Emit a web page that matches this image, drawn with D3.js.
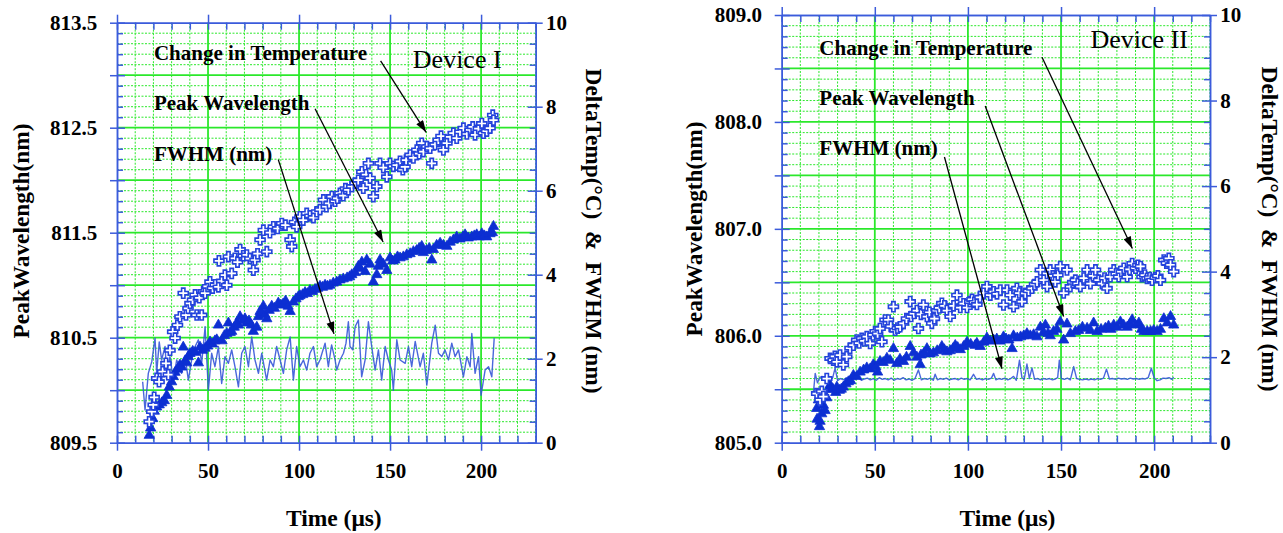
<!DOCTYPE html>
<html><head><meta charset="utf-8">
<script src="https://cdn.jsdelivr.net/npm/d3@7"></script>
<style>
body{margin:0;background:#fff;}
svg{display:block;}
text{font-family:"Liberation Serif","Times New Roman",serif;}
</style></head><body>
<svg id="c" width="1283" height="533"></svg>
<script>
// ---------------- DATA ----------------
const timeTicks = [0, 50, 100, 150, 200];
const timeTickLabels = ["0", "50", "100", "150", "200"];
const tempTicks = [0, 2, 4, 6, 8, 10];
const tempTickLabels = ["0", "2", "4", "6", "8", "10"];
const wlTicksI = [809.5, 810.5, 811.5, 812.5, 813.5];
const wlTickLabelsI = ["809.5", "810.5", "811.5", "812.5", "813.5"];
const wlTicksII = [805, 806, 807, 808, 809];
const wlTickLabelsII = ["805.0", "806.0", "807.0", "808.0", "809.0"];
const seriesNames = ["Change in Temperature", "Peak Wavelength", "FWHM (nm)"];

// Device I : [time (µs), delta T (°C)]
const devITemp = [[17.7,0.50],[19.1,0.74],[19.9,0.90],[20.4,1.08],[21.8,1.53],[23.1,1.45],[25.1,1.69],[26.9,1.89],[28.2,1.62],[29.1,2.20],[30.6,2.64],[31.9,2.49],[33.2,2.80],[34.6,3.00],[36.4,3.56],[37.9,3.04],[39.0,3.20],[40.1,3.32],[41.5,3.40],[42.9,3.52],[43.8,3.04],[45.2,3.45],[46.5,3.04],[47.4,3.60],[48.4,3.56],[49.8,3.72],[51.1,3.83],[52.5,3.68],[54.0,3.76],[55.7,3.71],[56.0,4.33],[57.5,3.85],[59.3,3.99],[60.3,3.75],[61.2,4.43],[63.0,4.03],[64.8,4.39],[66.2,4.30],[67.6,4.60],[69.4,4.45],[71.3,4.47],[73.0,4.38],[74.9,4.11],[75.8,4.35],[77.2,4.50],[78.6,4.83],[80.4,5.06],[82.3,4.55],[84.0,5.00],[85.9,5.14],[88.2,5.10],[90.5,5.22],[92.5,5.18],[95.1,4.83],[96.0,4.67],[97.5,5.25],[98.7,5.14],[100.5,5.38],[102.3,5.30],[104.2,5.46],[106.0,5.40],[107.9,5.36],[109.7,5.50],[111.5,5.55],[113.4,5.78],[115.0,5.62],[116.5,5.70],[118.0,5.86],[119.8,5.75],[121.0,5.82],[122.5,5.94],[124.3,5.88],[125.5,6.05],[127.1,6.02],[129.0,6.10],[130.8,6.18],[132.5,6.25],[134.5,6.45],[135.3,6.06],[136.8,6.38],[138.1,6.65],[139.0,6.30],[140.8,5.86],[142.7,6.10],[144.5,6.65],[146.3,6.55],[148.2,6.33],[150.0,6.65],[151.8,6.58],[153.7,6.61],[155.5,6.70],[157.0,6.50],[158.2,6.57],[158.8,6.73],[161.0,6.85],[162.8,6.78],[164.7,6.97],[166.0,6.88],[167.4,7.13],[168.3,6.93],[170.2,7.05],[172.0,7.01],[172.9,6.65],[174.7,7.10],[176.5,7.21],[178.0,7.30],[179.3,6.97],[181.2,7.13],[183.0,7.28],[184.8,7.37],[186.6,7.25],[188.4,7.40],[190.3,7.49],[192.2,7.35],[194.0,7.45],[195.4,7.52],[196.7,7.33],[198.5,7.48],[200.4,7.60],[201.3,7.37],[203.1,7.42],[204.9,7.49],[206.4,7.80],[206.8,7.68]];

// Device I : [time (µs), peak wavelength (nm)]
const devIWl = [[17.7,809.57],[18.5,809.64],[19.6,809.73],[20.5,809.80],[21.8,809.84],[23.2,809.86],[24.6,809.88],[26.0,809.90],[27.3,809.95],[28.7,810.03],[30.0,810.08],[30.9,810.13],[31.9,810.17],[33.3,810.20],[34.6,810.24],[35.5,810.22],[36.4,810.41],[37.4,810.28],[38.3,810.26],[39.2,810.32],[40.1,810.35],[41.6,810.37],[43.0,810.36],[44.7,810.26],[45.6,810.41],[47.0,810.38],[48.4,810.40],[49.8,810.42],[51.1,810.46],[52.5,810.44],[53.8,810.47],[54.8,810.48],[55.7,810.62],[57.7,810.47],[59.0,810.52],[60.3,810.54],[61.2,810.64],[62.2,810.55],[63.0,810.56],[64.4,810.60],[65.8,810.64],[66.7,810.62],[67.6,810.70],[69.0,810.66],[70.3,810.68],[71.3,810.64],[72.5,810.66],[73.8,810.62],[74.9,810.56],[76.8,810.60],[77.7,810.70],[78.6,810.75],[79.5,810.74],[80.4,810.80],[81.3,810.72],[82.3,810.68],[83.6,810.76],[85.0,810.80],[86.5,810.78],[88.6,810.83],[90.0,810.81],[91.2,810.82],[92.6,810.85],[94.0,810.80],[95.1,810.75],[96.9,810.84],[98.3,810.87],[99.6,810.89],[100.5,810.90],[102.0,810.91],[103.3,810.93],[104.6,810.92],[106.0,810.95],[107.4,810.94],[108.8,810.96],[110.2,810.97],[111.5,810.99],[112.9,810.98],[114.3,811.00],[115.6,810.99],[117.0,811.00],[118.8,811.02],[120.7,811.03],[122.5,811.05],[124.3,811.06],[126.4,811.07],[127.8,811.08],[129.0,811.10],[130.9,811.12],[132.6,811.18],[133.6,811.16],[134.5,811.22],[136.3,811.13],[137.2,811.24],[139.0,811.20],[140.8,811.03],[142.7,811.10],[143.6,811.18],[144.5,811.24],[146.3,811.20],[148.2,811.14],[150.0,811.26],[151.4,811.23],[152.7,811.24],[154.1,811.27],[155.5,811.26],[157.3,811.27],[159.2,811.29],[161.0,811.30],[162.8,811.32],[164.6,811.33],[166.0,811.35],[167.4,811.37],[168.3,811.31],[170.0,811.33],[171.5,811.35],[172.9,811.24],[173.8,811.34],[175.6,811.38],[177.5,811.40],[179.3,811.38],[181.2,811.37],[183.0,811.41],[184.8,811.43],[186.6,811.46],[188.4,811.44],[190.0,811.46],[191.2,811.48],[193.0,811.45],[194.9,811.46],[196.3,811.47],[197.6,811.48],[199.0,811.46],[200.4,811.49],[201.8,811.47],[203.1,811.46],[204.9,811.49],[206.2,811.50],[206.8,811.56]];

// Device I : [time (µs), FWHM (nm)]
const devIFwhm = [[14.1,1.45],[15.4,0.78],[17.2,1.65],[19.1,1.93],[20.9,2.49],[21.8,1.65],[23.2,2.40],[24.5,1.97],[26.4,2.29],[27.3,1.65],[29.1,2.05],[30.9,1.49],[32.8,1.97],[35.5,1.65],[37.4,2.05],[39.2,1.49],[41.0,1.97],[42.9,2.29],[44.7,2.45],[46.5,1.89],[48.4,2.76],[50.2,1.25],[52.0,2.13],[53.8,1.81],[55.7,2.29],[57.5,1.41],[59.3,2.05],[61.2,1.89],[63.0,2.21],[64.8,1.81],[66.7,1.33],[68.5,2.13],[70.3,2.29],[72.2,1.81],[74.0,2.52],[75.8,1.97],[77.7,1.65],[79.5,2.13],[82.2,1.49],[84.1,1.97],[85.9,1.81],[87.7,2.29],[89.6,1.97],[91.4,1.65],[93.2,2.21],[95.1,2.52],[96.9,1.49],[98.7,2.29],[100.5,1.81],[102.4,1.97],[104.2,1.73],[106.0,2.13],[107.9,2.29],[109.7,1.81],[111.5,1.97],[114.3,2.37],[116.1,1.81],[117.9,2.33],[119.8,1.97],[120.7,1.73],[122.5,1.97],[124.4,2.13],[125.8,2.37],[127.1,2.88],[128.0,2.29],[129.5,2.21],[130.8,2.76],[132.6,2.92],[134.4,1.57],[136.3,1.97],[138.1,2.88],[139.9,2.29],[141.8,1.73],[143.6,2.21],[145.4,1.49],[147.3,2.29],[149.1,1.97],[150.9,1.73],[151.8,1.25],[153.7,2.45],[155.5,1.97],[158.3,1.89],[160.1,2.29],[161.9,1.81],[163.8,2.41],[166.5,1.81],[168.3,2.13],[170.2,1.37],[172.9,2.37],[174.8,2.80],[176.6,2.13],[178.4,2.05],[180.2,2.21],[182.1,1.97],[183.9,2.37],[185.7,2.05],[187.6,2.21],[190.3,1.57],[192.2,2.05],[194.0,1.81],[194.9,2.60],[196.7,1.65],[198.6,2.05],[200.0,1.13],[202.2,1.73],[204.1,1.81],[205.9,1.57],[207.2,2.49]];

// Device II : [time (µs), delta T (°C)]
const devIITemp = [[18.8,1.15],[20.6,1.00],[21.5,1.20],[22.4,1.08],[24.2,1.50],[26.0,1.97],[27.7,1.93],[28.6,2.02],[29.6,1.89],[31.3,2.05],[33.1,1.82],[34.9,2.01],[36.7,2.21],[38.5,2.28],[40.3,2.40],[41.6,2.33],[43.0,2.44],[44.4,2.38],[45.7,2.48],[47.5,2.32],[49.0,2.52],[50.2,2.60],[51.5,2.55],[52.8,2.67],[53.8,2.36],[55.5,2.87],[57.3,2.87],[58.6,2.72],[60.0,3.18],[60.9,2.63],[62.2,2.68],[63.6,2.71],[65.4,2.79],[67.0,2.90],[69.0,3.30],[69.5,2.95],[71.0,3.02],[72.6,3.09],[73.4,2.67],[74.8,3.00],[76.1,3.22],[78.0,2.95],[79.3,3.05],[80.6,2.79],[82.0,2.90],[83.3,3.09],[84.6,3.15],[86.0,3.26],[87.4,3.20],[88.7,3.09],[90.5,2.95],[92.3,3.20],[94.1,3.45],[95.9,3.16],[97.7,3.25],[99.5,3.16],[101.0,3.30],[102.2,3.35],[103.5,3.28],[104.8,3.23],[106.5,3.40],[108.4,3.50],[110.2,3.65],[112.0,3.45],[113.8,3.53],[115.6,3.48],[117.4,3.57],[119.1,3.22],[121.0,3.57],[122.7,3.45],[124.5,3.18],[126.3,3.61],[127.6,3.50],[129.0,3.30],[130.8,3.49],[132.6,3.55],[134.4,3.61],[135.8,3.70],[137.1,3.76],[138.9,4.04],[140.7,3.80],[142.5,3.65],[144.2,4.04],[145.6,3.90],[146.9,3.76],[148.3,3.92],[149.6,4.12],[151.4,3.50],[153.2,4.04],[155.0,3.65],[156.3,3.75],[157.7,3.80],[159.0,3.72],[160.4,3.65],[162.2,3.85],[164.0,4.04],[165.8,3.72],[167.2,3.90],[168.5,4.04],[170.2,3.80],[172.0,3.72],[173.4,3.85],[174.7,3.61],[176.5,3.88],[178.3,4.04],[179.6,3.95],[181.0,3.88],[182.4,4.00],[183.7,4.08],[185.5,3.88],[186.8,4.05],[188.2,4.19],[190.0,4.08],[191.3,4.15],[192.7,4.12],[193.5,3.88],[195.0,3.92],[196.2,3.84],[197.6,3.86],[198.9,3.80],[200.7,3.86],[202.0,3.90],[203.4,3.80],[205.2,4.27],[206.6,4.20],[207.9,4.31],[208.8,4.16],[210.5,4.00]];

// Device II : [time (µs), peak wavelength (nm)]
const devIIWl = [[18.8,805.32],[19.0,805.22],[19.7,805.40],[20.3,805.15],[20.6,805.20],[21.5,805.27],[22.0,805.45],[22.4,805.35],[23.3,805.30],[24.2,805.42],[25.1,805.50],[26.0,805.54],[27.5,805.50],[29.0,805.47],[29.6,805.52],[31.0,805.49],[32.0,805.50],[33.1,805.52],[34.5,805.55],[35.8,805.57],[37.0,805.58],[38.5,805.63],[40.3,805.62],[42.1,805.66],[44.0,805.68],[45.7,805.70],[47.5,805.69],[49.2,805.73],[50.5,805.71],[51.5,805.66],[52.8,805.76],[54.5,805.75],[56.5,805.79],[58.2,805.77],[60.0,805.88],[61.8,805.74],[63.5,805.78],[65.4,805.76],[67.0,805.80],[69.0,805.90],[70.8,805.84],[72.6,805.80],[74.4,805.73],[74.8,805.82],[76.5,805.84],[78.0,805.88],[79.7,805.83],[81.5,805.84],[83.5,805.86],[86.0,805.90],[87.3,805.87],[88.7,805.85],[90.5,805.86],[92.0,805.88],[93.2,805.91],[94.5,805.89],[95.9,805.87],[97.7,805.90],[99.5,805.94],[101.5,805.92],[103.9,805.91],[104.8,805.93],[106.6,805.90],[108.5,805.94],[110.2,805.98],[112.0,805.95],[113.8,805.96],[115.5,805.97],[117.3,805.95],[119.1,805.99],[120.5,805.97],[122.0,805.96],[123.7,805.88],[124.5,806.00],[126.5,805.98],[128.3,805.99],[130.0,806.00],[131.7,806.02],[133.5,806.00],[135.3,806.01],[137.1,805.99],[138.9,806.08],[140.5,806.03],[141.6,806.10],[143.0,806.02],[144.2,806.00],[146.0,806.04],[147.8,806.06],[149.6,806.13],[151.4,805.96],[153.2,806.11],[155.0,806.02],[157.7,806.04],[159.5,806.05],[161.5,806.08],[164.0,806.07],[165.8,806.05],[167.5,806.12],[169.4,806.04],[171.5,806.06],[173.8,806.07],[175.5,806.09],[176.8,806.06],[178.3,806.10],[180.0,806.08],[181.9,806.13],[183.6,806.10],[185.5,806.08],[187.0,806.11],[188.2,806.15],[190.0,806.10],[191.8,806.12],[193.2,806.06],[194.5,806.04],[196.3,806.04],[198.1,806.04],[199.8,806.05],[201.6,806.04],[203.4,806.06],[205.2,806.16],[207.0,806.12],[208.8,806.18],[210.5,806.10]];

// Device II : [time (µs), FWHM (nm)]
const devIIFwhm = [[17.0,1.15],[18.0,1.62],[19.2,1.40],[20.4,1.52],[21.6,1.55],[23.0,1.50],[24.5,1.56],[26.0,1.48],[27.4,1.52],[28.7,1.75],[30.0,1.45],[31.6,1.50],[33.2,1.47],[34.8,1.52],[36.4,1.46],[38.0,1.50],[39.6,1.48],[41.2,1.52],[42.8,1.46],[44.4,1.49],[46.0,1.51],[47.6,1.47],[49.2,1.50],[50.8,1.46],[52.4,1.52],[54.0,1.48],[55.6,1.50],[57.2,1.47],[58.8,1.51],[60.4,1.46],[62.0,1.50],[63.6,1.48],[65.2,1.52],[66.8,1.47],[68.4,1.49],[70.0,1.46],[71.6,1.50],[73.4,1.70],[75.0,1.47],[76.6,1.50],[78.2,1.48],[79.8,1.51],[81.4,1.46],[82.4,1.60],[83.6,1.47],[85.2,1.50],[86.8,1.48],[88.4,1.51],[90.0,1.47],[91.6,1.49],[93.2,1.50],[94.8,1.47],[96.4,1.51],[98.0,1.48],[99.6,1.50],[101.2,1.47],[103.0,1.60],[104.6,1.48],[106.2,1.50],[107.8,1.47],[109.4,1.50],[111.0,1.48],[112.6,1.51],[113.8,1.62],[115.0,1.47],[116.6,1.50],[118.2,1.48],[119.8,1.51],[121.4,1.47],[123.0,1.50],[124.5,1.55],[126.0,1.46],[127.7,1.93],[129.0,1.52],[130.2,1.48],[131.7,1.84],[133.0,1.50],[134.4,1.75],[135.8,1.48],[137.4,1.50],[139.0,1.47],[140.6,1.50],[142.2,1.48],[143.8,1.50],[145.4,1.47],[147.0,1.49],[148.2,1.52],[149.1,1.93],[150.2,1.50],[151.8,1.48],[153.4,1.51],[155.0,1.47],[156.8,1.78],[158.4,1.50],[160.0,1.48],[161.6,1.47],[163.2,1.49],[164.8,1.47],[166.4,1.49],[168.0,1.47],[169.6,1.50],[171.2,1.48],[172.8,1.51],[174.4,1.72],[176.0,1.49],[177.6,1.50],[179.2,1.48],[180.8,1.51],[182.4,1.49],[184.0,1.50],[185.6,1.48],[187.2,1.51],[188.8,1.49],[190.4,1.50],[192.0,1.48],[193.6,1.50],[195.2,1.49],[196.8,1.52],[198.5,1.74],[200.0,1.52],[201.6,1.45],[203.2,1.47],[204.8,1.51],[206.4,1.50],[208.0,1.52],[209.5,1.48],[210.5,1.53]];

// ---------------- LAYOUT ----------------
// annotation anchors are in data units (time, right-axis value)
const charts = [
  { device: "Device I", wlDomain: [809.5, 813.5], wlTicks: wlTicksI, wlLabels: wlTickLabelsI,
    temp: devITemp, wl: devIWl, fwhm: devIFwhm,
    box: { x0: 117, x1: 535.7, y0: 22.7, y1: 442.7 },
    leftTitleX: 29.3, rightTitleX: 585.7, titleY: 231, timeX: 333.8,
    labelT: 20.3, labelV: [9.11, 7.92, 6.71],
    arrows: [[144.8, 9.09, 169.8, 7.39], [108.8, 7.95, 146.2, 4.78], [88.6, 6.74, 119.2, 2.59]],
    devicePos: [162.5, 8.91] },
  { device: "Device II", wlDomain: [805, 809], wlTicks: wlTicksII, wlLabels: wlTickLabelsII,
    temp: devIITemp, wl: devIIWl, fwhm: devIIFwhm,
    box: { x0: 781.7, x1: 1210, y0: 15, y1: 442.7 },
    leftTitleX: 701.5, rightTitleX: 1262.3, titleY: 229, timeX: 1007.5,
    labelT: 20.2, labelV: [9.06, 7.90, 6.73],
    arrows: [[139.8, 9.01, 188.3, 4.54], [109.3, 7.87, 151.4, 2.95], [87.4, 6.68, 118.3, 1.73]],
    devicePos: [165.8, 9.22] }
];

const AXIS_BLUE = "#3b5bdb";
const GRID_GREEN = "#2be82b";
const MARK_BLUE = "#0c2fd2";
const PLUS_BLUE = "#2343dc";
const LINE_BLUE = "#3656d8";
const SERIF = "'Liberation Serif','Times New Roman',serif";

const svg = d3.select("#c");
const defs = svg.append("defs");
defs.append("marker").attr("id", "ah").attr("viewBox", "0 0 12 8")
  .attr("refX", 12).attr("refY", 4).attr("markerWidth", 13).attr("markerHeight", 8)
  .attr("markerUnits", "userSpaceOnUse").attr("orient", "auto")
  .append("path").attr("d", "M0,0 L12,4 L0,8 Z").attr("fill", "#000");

function styleAxis(sel, fs) {
  sel.attr("font-family", SERIF).attr("font-size", fs).attr("font-weight", "bold");
  sel.select(".domain").attr("stroke", AXIS_BLUE).attr("stroke-width", 1.5);
  sel.selectAll(".tick line").attr("stroke", AXIS_BLUE).attr("stroke-width", 1.5);
  sel.selectAll(".tick text").attr("fill", "#000");
}

function drawChart(c) {
  const b = c.box;
  const x = d3.scaleLinear().domain([0, 230]).range([b.x0, b.x1]);
  const yL = d3.scaleLinear().domain(c.wlDomain).range([b.y1, b.y0]);
  const yR = d3.scaleLinear().domain([0, 10]).range([b.y1, b.y0]);
  const g = svg.append("g");
  const lo = c.wlDomain[0];

  const hAll = d3.range(0, 41).map(i => +(lo + i * 0.1).toFixed(2));
  const hMinor = hAll.filter((v, i) => i % 5 !== 0);
  const hMajor = hAll.filter((v, i) => i % 5 === 0);
  const vAll = d3.range(0, 24).map(i => i * 10);
  const vMinor = vAll.filter(v => v % 50 !== 0);
  const vMajor = vAll.filter(v => v % 50 === 0);
  const rAll = d3.range(0, 21).map(i => i * 0.5);
  const rMinor = rAll.filter(v => v % 2 !== 0);

  // grid
  const grid = g.append("g");
  grid.selectAll(".hmin").data(hMinor).join("line")
    .attr("x1", b.x0).attr("x2", b.x1).attr("y1", d => yL(d)).attr("y2", d => yL(d))
    .attr("stroke", GRID_GREEN).attr("stroke-width", 1).attr("stroke-dasharray", "2,1.5");
  grid.selectAll(".vmin").data(vMinor).join("line")
    .attr("y1", b.y0).attr("y2", b.y1).attr("x1", d => x(d)).attr("x2", d => x(d))
    .attr("stroke", GRID_GREEN).attr("stroke-width", 1).attr("stroke-dasharray", "2,1.5");
  grid.selectAll(".hmaj").data(hMajor.slice(1, -1)).join("line")
    .attr("x1", b.x0).attr("x2", b.x1).attr("y1", d => yL(d)).attr("y2", d => yL(d))
    .attr("stroke", GRID_GREEN).attr("stroke-width", 1.8);
  grid.selectAll(".vmaj").data(vMajor.slice(1)).join("line")
    .attr("y1", b.y0).attr("y2", b.y1).attr("x1", d => x(d)).attr("x2", d => x(d))
    .attr("stroke", GRID_GREEN).attr("stroke-width", 1.8);

  // axes
  const labelOf = (vals, labels) => v => {
    const i = vals.findIndex(t => Math.abs(t - v) < 1e-6);
    return i >= 0 ? labels[i] : "";
  };
  g.append("g").attr("transform", `translate(${b.x0},0)`)
    .call(d3.axisLeft(yL).tickValues(hMinor).tickSize(-6).tickSizeOuter(0).tickFormat(""))
    .call(s => styleAxis(s, 21));
  g.append("g").attr("transform", `translate(${b.x0},0)`)
    .call(d3.axisLeft(yL).tickValues(hMajor).tickSize(7).tickSizeOuter(0).tickPadding(12.7)
      .tickFormat(labelOf(c.wlTicks, c.wlLabels)))
    .call(s => styleAxis(s, 21))
    .call(s => s.selectAll(".tick line").attr("x1", 8));
  g.append("g").attr("transform", `translate(${b.x1},0)`)
    .call(d3.axisRight(yR).tickValues(rMinor).tickSize(-6).tickSizeOuter(0).tickFormat(""))
    .call(s => styleAxis(s, 21));
  g.append("g").attr("transform", `translate(${b.x1},0)`)
    .call(d3.axisRight(yR).tickValues(tempTicks).tickSize(7).tickSizeOuter(0).tickPadding(3.3)
      .tickFormat(labelOf(tempTicks, tempTickLabels)))
    .call(s => styleAxis(s, 21))
    .call(s => s.selectAll(".tick line").attr("x1", -8));
  g.append("g").attr("transform", `translate(0,${b.y1})`)
    .call(d3.axisBottom(x).tickValues(vMinor).tickSize(-7).tickSizeOuter(0).tickFormat(""))
    .call(s => styleAxis(s, 21));
  g.append("g").attr("transform", `translate(0,${b.y1})`)
    .call(d3.axisBottom(x).tickValues(timeTicks).tickSize(8).tickSizeOuter(0).tickPadding(12)
      .tickFormat(labelOf(timeTicks, timeTickLabels)))
    .call(s => styleAxis(s, 21))
    .call(s => s.selectAll(".tick line").attr("y1", -7));
  g.append("g").attr("transform", `translate(0,${b.y0})`)
    .call(d3.axisTop(x).tickValues(vMinor).tickSize(-7).tickSizeOuter(0).tickFormat(""))
    .call(s => styleAxis(s, 21));
  g.append("g").attr("transform", `translate(0,${b.y0})`)
    .call(d3.axisTop(x).tickValues(timeTicks).tickSize(8).tickSizeOuter(0).tickFormat(""))
    .call(s => styleAxis(s, 21))
    .call(s => s.selectAll(".tick line").attr("y1", 7));

  // FWHM line
  g.append("path").datum(c.fwhm)
    .attr("d", d3.line().x(d => x(d[0])).y(d => yR(d[1])))
    .attr("fill", "none").attr("stroke", LINE_BLUE).attr("stroke-width", 1.4)
    .attr("stroke-linejoin", "round").attr("opacity", 0.9);

  // Peak wavelength triangles
  const tri = d3.symbol(d3.symbolTriangle).size(46);
  g.append("g").selectAll("path").data(c.wl).join("path")
    .attr("d", tri).attr("transform", d => `translate(${x(d[0])},${yL(d[1])})`)
    .attr("fill", MARK_BLUE).attr("stroke", MARK_BLUE).attr("stroke-width", 0.8);

  // Temperature pluses
  const plus = d3.symbol(d3.symbolCross).size(56);
  g.append("g").selectAll("path").data(c.temp).join("path")
    .attr("d", plus).attr("transform", d => `translate(${x(d[0])},${yR(d[1])})`)
    .attr("fill", "#fff").attr("stroke", PLUS_BLUE).attr("stroke-width", 1.6);

  // annotations
  const ann = g.append("g");
  seriesNames.forEach((name, i) => {
    ann.append("text").attr("x", x(c.labelT)).attr("y", yR(c.labelV[i]))
      .attr("font-family", SERIF).attr("font-size", 21).attr("font-weight", "bold")
      .attr("fill", "#000").text(name);
  });
  c.arrows.forEach(a => {
    ann.append("line").attr("x1", x(a[0])).attr("y1", yR(a[1]))
      .attr("x2", x(a[2])).attr("y2", yR(a[3]))
      .attr("stroke", "#000").attr("stroke-width", 1.3).attr("marker-end", "url(#ah)");
  });
  ann.append("text").attr("x", x(c.devicePos[0])).attr("y", yR(c.devicePos[1]))
    .attr("font-family", SERIF).attr("font-size", 26).attr("fill", "#000").text(c.device);

  // axis titles
  g.append("text").attr("transform", `translate(${c.leftTitleX},${c.titleY}) rotate(-90)`)
    .attr("text-anchor", "middle").attr("font-family", SERIF).attr("font-size", 23.3)
    .attr("font-weight", "bold").text("PeakWavelength(nm)");
  g.append("text").attr("transform", `translate(${c.rightTitleX},${c.titleY}) rotate(90)`)
    .attr("text-anchor", "middle").attr("font-family", SERIF).attr("font-size", 23.3)
    .attr("font-weight", "bold").style("white-space", "pre")
    .text("DeltaTemp(\u00B0C)  &  FWHM (nm)");
  g.append("text").attr("x", c.timeX).attr("y", 526)
    .attr("text-anchor", "middle").attr("font-family", SERIF).attr("font-size", 23.5)
    .attr("font-weight", "bold").text("Time (\u03BCs)");
}

charts.forEach(drawChart);
</script>
</body></html>
